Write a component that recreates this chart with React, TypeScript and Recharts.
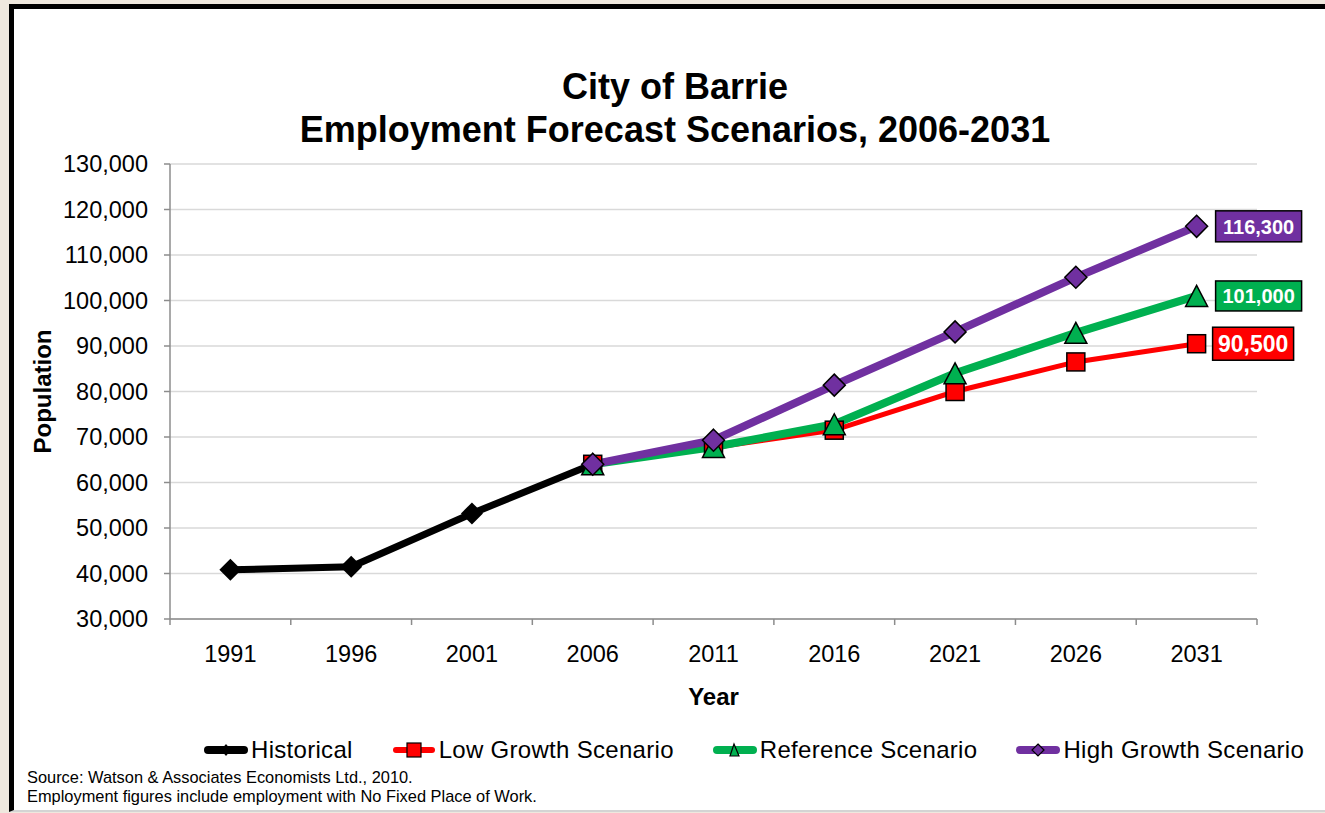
import React from 'react';
import { LineChart, Line, XAxis, YAxis, CartesianGrid, Legend, LabelList } from 'recharts';

const years = [1991, 1996, 2001, 2006, 2011, 2016, 2021, 2026, 2031];
const historical = [40800, 41500, 53200, 64000, null, null, null, null, null];
const lowGrowth = [null, null, null, 64000, 67700, 71500, 80000, 86500, 90500];
const referenceScenario = [null, null, null, 64000, 67800, 72800, 84000, 92900, 101000];
const highGrowth = [null, null, null, 64000, 69300, 81400, 93100, 105100, 116300];
const yTicks = [30000, 40000, 50000, 60000, 70000, 80000, 90000, 100000, 110000, 120000, 130000];
const seriesNames = ['Historical', 'Low Growth Scenario', 'Reference Scenario', 'High Growth Scenario'];
const titleLines = ['City of Barrie', 'Employment Forecast Scenarios, 2006-2031'];
const sourceLines = [
  'Source: Watson & Associates Economists Ltd., 2010.',
  'Employment figures include employment with No Fixed Place of Work.',
];

const data = years.map((year, i) => ({
  year,
  historical: historical[i],
  low: lowGrowth[i],
  reference: referenceScenario[i],
  high: highGrowth[i],
}));

const CHART_W = 1325;
const CHART_H = 813;
const MARGIN = { top: 164, right: 68, bottom: 134, left: 70 };
const Y_AXIS_W = 100;
const X_AXIS_H = 60;
const TICK_SIZE = 6;
const TICK_MARGIN = 20;

const FONT = '"Liberation Sans", Arial, Helvetica, sans-serif';
const BLACK = '#000000';
const RED = '#ff0000';
const GREEN = '#00b050';
const PURPLE = '#7030a0';
const AXIS = '#8c8c8c';
const GRID = '#d9d9d9';

const fmt = (v: number) => v.toLocaleString('en-US');

const diamondDot = (fill: string, r: number, stroke: string, sw: number) => (props: any) => {
  const { cx, cy, index } = props;
  if (cx == null || cy == null || props.value == null) return <g key={`d${index}`} />;
  return (
    <polygon
      key={`d${index}`}
      points={`${cx},${cy - r} ${cx + r},${cy} ${cx},${cy + r} ${cx - r},${cy}`}
      fill={fill}
      stroke={stroke}
      strokeWidth={sw}
      strokeLinejoin="miter"
    />
  );
};

const squareDot = (fill: string, s: number) => (props: any) => {
  const { cx, cy, index } = props;
  if (cx == null || cy == null || props.value == null) return <g key={`s${index}`} />;
  return <rect key={`s${index}`} x={cx - s / 2} y={cy - s / 2} width={s} height={s} fill={fill} stroke="#000" strokeWidth={1.5} />;
};

const triangleDot = (fill: string, w: number, h: number) => (props: any) => {
  const { cx, cy, index } = props;
  if (cx == null || cy == null || props.value == null) return <g key={`t${index}`} />;
  return (
    <polygon
      key={`t${index}`}
      points={`${cx},${cy - h / 2} ${cx + w / 2},${cy + h / 2} ${cx - w / 2},${cy + h / 2}`}
      fill={fill}
      stroke="#000"
      strokeWidth={1.5}
    />
  );
};

const makeEndLabel = (fill: string, fontSize: number, w: number, h: number, gap: number) => (props: any) => {
  const { x, y, value, index } = props;
  if (index !== years.length - 1 || value == null) return null;
  const left = x + gap;
  return (
    <g>
      <rect x={left} y={y - h / 2} width={w} height={h} fill={fill} stroke="#000" strokeWidth={1.5} />
      <text
        x={left + w / 2}
        y={y}
        dy="0.36em"
        textAnchor="middle"
        fill="#fff"
        fontWeight="bold"
        fontSize={fontSize}
        fontFamily={FONT}
      >
        {fmt(value)}
      </text>
    </g>
  );
};

// X tick: year label at the band centre, tick marks at the band boundaries (Excel style)
const XTick = (props: any) => {
  const { x, y, payload, index } = props;
  const plotW = CHART_W - MARGIN.left - MARGIN.right - Y_AXIS_W;
  const half = payload && payload.offset ? payload.offset : plotW / years.length / 2;
  const axisY = y - TICK_SIZE - TICK_MARGIN;
  const marks = [x - half];
  if (index === years.length - 1) marks.push(x + half);
  return (
    <g>
      {marks.map((mx, k) => (
        <line key={k} x1={mx} x2={mx} y1={axisY} y2={axisY + TICK_SIZE} stroke={AXIS} strokeWidth={1.5} />
      ))}
      <text x={x} y={y} dy="0.71em" textAnchor="middle" fill="#000" fontSize={23.5} fontFamily={FONT}>
        {payload.value}
      </text>
    </g>
  );
};

const legendIcon = (i: number) => {
  const colors = [BLACK, RED, GREEN, PURPLE];
  const widths = [8, 6, 8, 8];
  const c = colors[i];
  return (
    <svg width={46} height={22} style={{ display: 'block' }}>
      <line x1={5} y1={11} x2={41} y2={11} stroke={c} strokeWidth={widths[i]} strokeLinecap="round" />
      {i === 0 && <polygon points="23,5 28,11 23,17 18,11" fill="#000" />}
      {i === 1 && <rect x={16} y={4} width={14} height={14} fill={RED} stroke="#000" strokeWidth={1.2} />}
      {i === 2 && <polygon points="22,5 27,17 18,17" fill={GREEN} stroke="#000" strokeWidth={1.2} />}
      {i === 3 && <polygon points="23,5 29,11 23,17 17,11" fill={PURPLE} stroke="#000" strokeWidth={1.2} />}
    </svg>
  );
};

const renderLegend = () => (
  <div
    style={{
      display: 'flex',
      alignItems: 'center',
      paddingLeft: 203,
      fontFamily: FONT,
      fontSize: 24,
      color: '#000',
      whiteSpace: 'nowrap',
    }}
  >
    {seriesNames.map((name, i) => (
      <div key={name} style={{ display: 'flex', alignItems: 'center', marginRight: 38 }}>
        {legendIcon(i)}
        <span style={{ marginLeft: 2, letterSpacing: '0.3px' }}>{name}</span>
      </div>
    ))}
  </div>
);

const renderYLabel = (props: any) => {
  const vb = props.viewBox || {};
  const cx = vb.x - 28;
  const cy = vb.y + vb.height / 2;
  return (
    <text
      x={cx}
      y={cy}
      transform={`rotate(-90, ${cx}, ${cy})`}
      textAnchor="middle"
      dominantBaseline="central"
      fontFamily={FONT}
      fontWeight="bold"
      fontSize={24}
      fill="#000"
    >
      Population
    </text>
  );
};

export default function App() {
  return (
    <div
      style={{
        position: 'absolute',
        left: 0,
        top: 0,
        width: CHART_W,
        height: CHART_H,
        overflow: 'hidden',
        background: '#efe8de',
        fontFamily: FONT,
      }}
    >
      <div
        style={{
          position: 'absolute',
          left: 9,
          top: 4,
          width: 1340,
          height: 808,
          boxSizing: 'border-box',
          background: '#fff',
          borderLeft: '5px solid #000',
          borderTop: '5px solid #000',
          borderBottom: '2px solid #d4d4d4',
        }}
      />
      <div
        style={{
          position: 'absolute',
          left: 275,
          width: 800,
          top: 65,
          textAlign: 'center',
          fontWeight: 'bold',
          fontSize: 36,
          lineHeight: '43px',
          color: '#000',
        }}
      >
        {titleLines.map((t) => (
          <div key={t}>{t}</div>
        ))}
      </div>
      <div
        style={{
          position: 'absolute',
          left: 27,
          top: 768,
          fontSize: 16.4,
          lineHeight: '19px',
          color: '#000',
          whiteSpace: 'nowrap',
        }}
      >
        {sourceLines.map((t) => (
          <div key={t}>{t}</div>
        ))}
      </div>
      <div style={{ position: 'absolute', left: 0, top: 0, width: CHART_W, height: CHART_H }}>
        <LineChart width={CHART_W} height={CHART_H} data={data} margin={MARGIN}>
          <CartesianGrid vertical={false} stroke={GRID} strokeWidth={1.5} />
          <XAxis
            dataKey="year"
            type="category"
            scale="band"
            interval={0}
            height={X_AXIS_H}
            tickSize={TICK_SIZE}
            tickMargin={TICK_MARGIN}
            axisLine={{ stroke: AXIS, strokeWidth: 1.5 }}
            tickLine={{ stroke: 'none' }}
            tick={<XTick />}
            label={{
              value: 'Year',
              position: 'bottom',
              offset: 9,
              fill: '#000',
              fontSize: 24,
              fontWeight: 'bold',
              fontFamily: FONT,
            }}
          />
          <YAxis
            type="number"
            domain={[yTicks[0], yTicks[yTicks.length - 1]]}
            ticks={yTicks}
            interval={0}
            width={Y_AXIS_W}
            tickSize={TICK_SIZE}
            tickMargin={16}
            tickFormatter={fmt}
            tick={{ fill: '#000', fontSize: 23.5, fontFamily: FONT }}
            axisLine={{ stroke: AXIS, strokeWidth: 1.5 }}
            tickLine={{ stroke: AXIS, strokeWidth: 1.5 }}
            label={{ value: 'Population', content: renderYLabel }}
          />
          <Legend
            layout="horizontal"
            verticalAlign="middle"
            align="center"
            content={renderLegend}
            wrapperStyle={{ top: 736, left: 0, width: CHART_W, height: 30 }}
          />
          <Line
            dataKey="historical"
            name={seriesNames[0]}
            type="linear"
            stroke={BLACK}
            strokeWidth={7}
            dot={diamondDot(BLACK, 11, BLACK, 0)}
            activeDot={false}
            isAnimationActive={false}
          />
          <Line
            dataKey="low"
            name={seriesNames[1]}
            type="linear"
            stroke={RED}
            strokeWidth={5}
            dot={squareDot(RED, 18)}
            activeDot={false}
            isAnimationActive={false}
          >
            <LabelList dataKey="low" content={makeEndLabel(RED, 23, 81, 33, 16)} />
          </Line>
          <Line
            dataKey="reference"
            name={seriesNames[2]}
            type="linear"
            stroke={GREEN}
            strokeWidth={8}
            dot={triangleDot(GREEN, 22, 21)}
            activeDot={false}
            isAnimationActive={false}
          >
            <LabelList dataKey="reference" content={makeEndLabel(GREEN, 20, 86, 30, 19)} />
          </Line>
          <Line
            dataKey="high"
            name={seriesNames[3]}
            type="linear"
            stroke={PURPLE}
            strokeWidth={8}
            dot={diamondDot(PURPLE, 11, BLACK, 1.5)}
            activeDot={false}
            isAnimationActive={false}
          >
            <LabelList dataKey="high" content={makeEndLabel(PURPLE, 20, 86, 31, 19)} />
          </Line>
        </LineChart>
      </div>
    </div>
  );
}
